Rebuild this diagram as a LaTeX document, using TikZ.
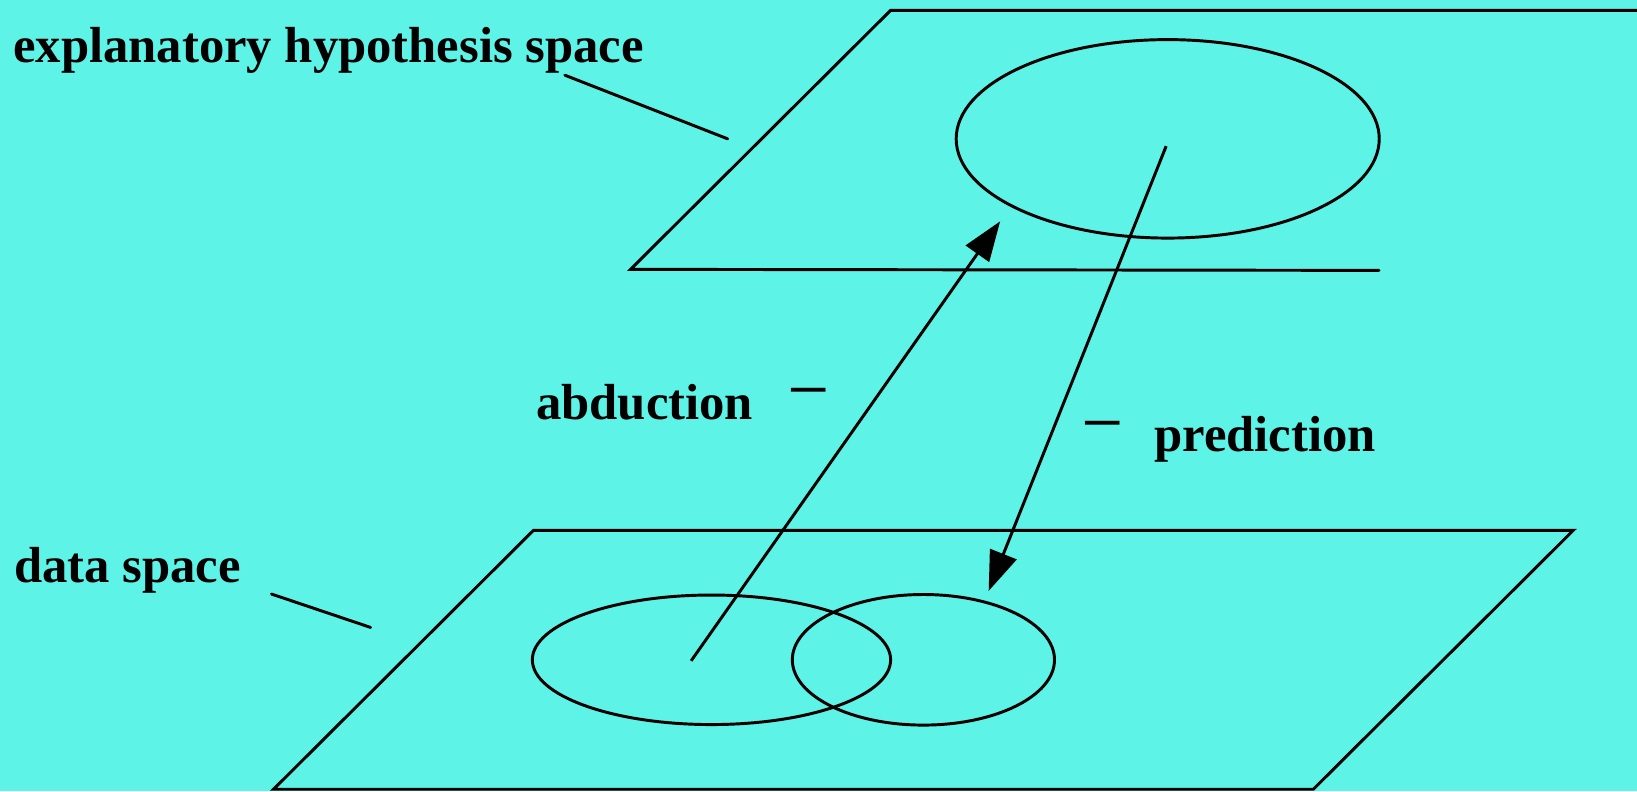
\documentclass[tikz,border=0pt]{standalone}
\usepackage{fontspec}
\setmainfont{Liberation Serif}
\usetikzlibrary{arrows.meta,shapes.geometric}
\definecolor{bgcyan}{RGB}{93,243,230}
\tikzset{
  edge/.style={line width=0.8pt, line cap=round},
  lbl/.style={inner sep=0pt, anchor=base west, font=\fontsize{13.8pt}{16pt}\selectfont\bfseries},
  dashlbl/.style={inner sep=0pt, anchor=center, xscale=1.35, font=\fontsize{15pt}{16pt}\selectfont\bfseries},
  oval/.style={draw, ellipse, line width=0.8pt, inner sep=0pt},
  arr/.style={line width=0.8pt, -{Triangle[length=0.38cm,width=0.27cm]}}
}
\begin{document}
\begin{tikzpicture}[x=0.01cm,y=-0.01cm]
\fill[bgcyan] (0,0) rectangle (1568,758);
\useasboundingbox (0,0) rectangle (1568,758);
% top plane
\coordinate (t1) at (853,10);
\coordinate (t2) at (1568,10);
\coordinate (t3) at (604,258);
\coordinate (t4) at (1321,259);
\draw[edge] (t2) -- (t1) -- (t3) -- (t4);
% bottom plane
\coordinate (b1) at (511,508);
\coordinate (b2) at (1507,508);
\coordinate (b3) at (1258,756);
\coordinate (b4) at (262,756);
\draw[edge] (b1) -- (b2) -- (b3) -- (b4) -- cycle;
% ellipses
\node[oval, minimum width=4.05cm, minimum height=1.9cm] (hyp) at (1118.5,133) {};
\node[oval, minimum width=3.43cm, minimum height=1.24cm] (dl) at (681.5,632) {};
\node[oval, minimum width=2.51cm, minimum height=1.25cm] (dr) at (884.5,632) {};
% arrows
\coordinate (as) at (662,633);
\coordinate (ae) at (958,212);
\coordinate (ps) at (1117,140);
\coordinate (pe) at (947,566);
\draw[arr] (as) -- (ae);
\draw[arr] (ps) -- (pe);
% leader lines
\coordinate (l1a) at (541,72);
\coordinate (l1b) at (697,133);
\coordinate (l2a) at (260,569);
\coordinate (l2b) at (355,601);
\draw[edge] (l1a) -- (l1b);
\draw[edge] (l2a) -- (l2b);
% labels
\node[lbl] (th) at (12,60) {explanatory hypothesis space};
\node[lbl] (td) at (13,558) {data space};
\node[lbl] (tab) at (513,402) {abduction};
\node[dashlbl] (dab) at (775,382) {−};
\node[lbl] (tpr) at (1105,432) {prediction};
\node[dashlbl] (dpr) at (1056,413) {−};
\end{tikzpicture}
\end{document}
